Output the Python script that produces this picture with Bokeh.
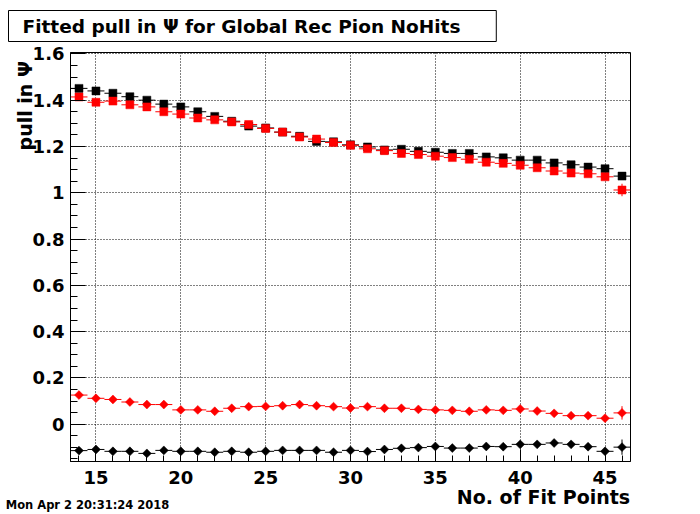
import numpy as np
from bokeh.plotting import figure
from bokeh.models import (Range1d, SingleIntervalTicker, FixedTicker, CustomJSTickFormatter,
                          Title, ColumnDataSource, LinearAxis)
from bokeh.embed import file_html
from bokeh.resources import INLINE

# ---------------- data ----------------
fit_points = list(range(14, 47))

black_sq = [1.451, 1.440, 1.430, 1.415, 1.400, 1.383, 1.371, 1.350, 1.330, 1.309,
            1.288, 1.280, 1.262, 1.244, 1.222, 1.220, 1.207,
            1.198, 1.185, 1.188, 1.179, 1.175, 1.170, 1.170, 1.155, 1.151,
            1.141, 1.141, 1.129, 1.121, 1.111, 1.104, 1.072]
black_sq_err = [0.003] * 27 + [0.005, 0.005, 0.005, 0.005, 0.008, 0.014]

red_sq = [1.414, 1.391, 1.396, 1.380, 1.371, 1.350, 1.340, 1.323, 1.315, 1.306,
          1.295, 1.278, 1.262, 1.241, 1.232, 1.217, 1.205,
          1.190, 1.182, 1.170, 1.165, 1.158, 1.152, 1.145, 1.132, 1.127,
          1.119, 1.108, 1.094, 1.085, 1.082, 1.069, 1.012]
red_sq_err = [0.003] * 27 + [0.005, 0.005, 0.005, 0.005, 0.008, 0.027]

red_di = [0.126, 0.112, 0.107, 0.096, 0.085, 0.085, 0.062, 0.062, 0.056, 0.069,
          0.076, 0.077, 0.080, 0.085, 0.080, 0.076, 0.070,
          0.076, 0.069, 0.069, 0.064, 0.062, 0.060, 0.056, 0.062, 0.060,
          0.066, 0.057, 0.047, 0.037, 0.037, 0.026, 0.049]
red_di_err = [0.004] * 27 + [0.006, 0.006, 0.006, 0.006, 0.009, 0.029]

black_di = [-0.114, -0.109, -0.117, -0.117, -0.126, -0.113, -0.117, -0.117, -0.121, -0.117,
            -0.121, -0.117, -0.113, -0.113, -0.113, -0.121, -0.113,
            -0.118, -0.109, -0.104, -0.101, -0.096, -0.103, -0.103, -0.096, -0.097,
            -0.087, -0.087, -0.081, -0.087, -0.097, -0.117, -0.099]
black_di_err = [0.004] * 27 + [0.007, 0.007, 0.007, 0.007, 0.010, 0.033]

title_text = "Fitted pull in  Ψ  for Global Rec Pion NoHits"
x_title = "No. of Fit Points"
y_title = "pull in  Ψ"
date_text = "Mon Apr  2 20:31:24 2018"

# ---------------- layout ----------------
X0, X1 = 13.5, 46.5
Y0, Y1 = -0.161, 1.606
W, H = 700, 514
FL, FR, FT, FB = 70, 630, 52, 462

p = figure(width=W, height=H, output_backend="svg", toolbar_location=None,
           x_range=Range1d(X0, X1), y_range=Range1d(Y0, Y1),
           min_border_left=FL, min_border_right=W - FR,
           min_border_top=FT, min_border_bottom=H - FB)
p.background_fill_color = "white"
p.border_fill_color = "white"
p.outline_line_color = "black"
p.outline_line_width = 1

xt = SingleIntervalTicker(interval=5, num_minor_ticks=5)
yt = SingleIntervalTicker(interval=0.2, num_minor_ticks=4)
p.xaxis.ticker = xt
p.yaxis.ticker = yt
p.xgrid.ticker = xt
p.ygrid.ticker = yt
for g in (p.xgrid, p.ygrid):
    g.grid_line_color = "black"
    g.grid_line_dash = "1 2"
    g.grid_line_width = 1

p.yaxis.formatter = CustomJSTickFormatter(code="return String(Math.round(tick*10)/10);")

font = "DejaVu Sans"
for ax in (p.xaxis, p.yaxis):
    ax.axis_line_color = "black"
    ax.major_tick_line_color = "black"
    ax.minor_tick_line_color = "black"
    ax.major_tick_out = 0
    ax.minor_tick_out = 0
    ax.major_label_text_font = font
    ax.major_label_text_font_style = "bold"
    ax.major_label_text_font_size = "18px"
    ax.major_label_text_color = "black"
p.xaxis.major_tick_in = 12
p.xaxis.minor_tick_in = 6
p.yaxis.major_tick_in = 15
p.yaxis.minor_tick_in = 7
p.xaxis.major_label_standoff = 9
p.yaxis.major_label_standoff = 6

xs = np.array(fit_points, dtype=float)

def draw(vals, errs, color, marker, size, angle=0.0):
    v = np.array(vals)
    e = np.array(errs)
    src = ColumnDataSource(dict(x=xs, y=v, xl=xs - 0.5, xr=xs + 0.5, lo=v - e, hi=v + e))
    p.segment(x0="xl", y0="y", x1="xr", y1="y", source=src, line_color=color, line_width=1)
    p.segment(x0="x", y0="lo", x1="x", y1="hi", source=src, line_color=color, line_width=1)
    p.scatter(x="x", y="y", source=src, marker=marker, size=size, angle=angle,
              fill_color=color, line_color=color, line_width=0.5)

draw(black_sq, black_sq_err, "black", "square", 8)
draw(red_sq, red_sq_err, "red", "square", 8)
draw(black_di, black_di_err, "black", "square", 6.3, np.pi / 4)
draw(red_di, red_di_err, "red", "square", 6.3, np.pi / 4)

# top title box
top = Title(text=title_text, align="left", offset=-62, standoff=18, vertical_align="top",
            text_font=font, text_font_style="bold", text_font_size="18.5px",
            text_color="black", background_fill_color="white",
            border_line_color="black", border_line_width=1)
try:
    top.padding = dict(left=14, right=23, top=5, bottom=5)
except Exception:
    top.padding = (14, 5)
p.title = top

def bare_axis(**kw):
    return LinearAxis(axis_line_color=None, major_tick_line_color=None,
                      minor_tick_line_color=None, major_tick_in=0, major_tick_out=0,
                      minor_tick_in=0, minor_tick_out=0,
                      major_label_text_font=font, major_label_text_font_style="bold",
                      major_label_text_color="black", **kw)

# pixel-like helper ranges (offsets inside the frame) for the title texts
p.extra_x_ranges = {"stamp": Range1d(0, FR - FL)}
p.extra_y_ranges = {"ystamp": Range1d(0, FB - FT)}

# y-axis title: rotated tick label of a bare helper axis, near the top of the frame
ylab_axis = bare_axis(y_range_name="ystamp", ticker=FixedTicker(ticks=[360]),
                      major_label_overrides={360: y_title}, major_label_standoff=-7,
                      major_label_orientation="parallel", major_label_text_font_size="19px")
p.add_layout(ylab_axis, "left")

# x-axis title and date stamp: tick labels of bare helper axes
xtitle_axis = bare_axis(x_range_name="stamp", ticker=FixedTicker(ticks=[473]),
                        major_label_overrides={473: x_title}, major_label_standoff=-1,
                        major_label_text_font_size="19px")
p.add_layout(xtitle_axis, "below")
stamp_axis = bare_axis(x_range_name="stamp", ticker=FixedTicker(ticks=[19]),
                       major_label_overrides={19: date_text}, major_label_standoff=-13,
                       major_label_text_font_size="11.5px")
p.add_layout(stamp_axis, "below")

open("out.html", "w").write(file_html(p, INLINE))
